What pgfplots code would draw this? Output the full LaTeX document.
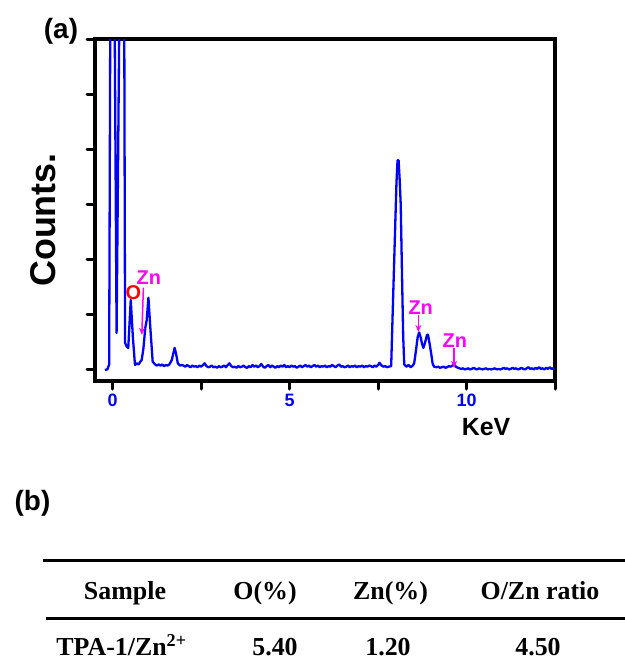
\documentclass[border=0pt]{standalone}
\usepackage{pgfplots}
\pgfplotsset{compat=1.18}
\usepackage{fontspec}
\setmainfont{Liberation Sans}
\newfontfamily\serifb{Liberation Serif}
\usetikzlibrary{arrows.meta}
\definecolor{pureblue}{RGB}{0,0,255}
\definecolor{puremag}{RGB}{255,0,255}
\definecolor{purered}{RGB}{255,0,0}
\pgfplotstableread{
x y
-0.22 0.00
-0.15 0.01
-0.10 0.10
-0.06 8
0.00 10
0.04 8
0.11 0.67
0.21 8
0.27 10
0.32 8
0.35 0.49
0.40 0.42
0.44 0.40
0.51 1.27
0.57 0.60
0.63 0.09
0.68 0.12
0.73 0.10
0.78 0.15
0.82 0.18
0.87 0.40
0.92 0.76
0.96 0.90
1.01 1.31
1.06 0.80
1.13 0.15
1.20 0.10
1.25 0.08
1.30 0.10
1.35 0.08
1.40 0.10
1.45 0.07
1.50 0.09
1.55 0.08
1.60 0.10
1.67 0.18
1.72 0.32
1.75 0.40
1.79 0.30
1.84 0.12
1.90 0.08
1.95 0.09
2.00 0.08
2.05 0.06
2.10 0.09
2.15 0.07
2.20 0.05
2.25 0.08
2.30 0.06
2.35 0.07
2.40 0.05
2.45 0.08
2.50 0.06
2.55 0.09
2.60 0.12
2.65 0.07
2.70 0.05
2.75 0.06
2.80 0.08
2.85 0.05
2.90 0.06
2.95 0.04
3.00 0.07
3.05 0.05
3.10 0.06
3.15 0.08
3.20 0.05
3.25 0.09
3.30 0.12
3.35 0.07
3.40 0.05
3.45 0.06
3.50 0.04
3.55 0.07
3.60 0.05
3.65 0.06
3.70 0.08
3.75 0.05
3.80 0.04
3.85 0.07
3.90 0.05
3.95 0.09
4.00 0.06
4.05 0.08
4.10 0.05
4.15 0.07
4.20 0.11
4.25 0.06
4.30 0.04
4.35 0.07
4.40 0.09
4.45 0.05
4.50 0.08
4.55 0.06
4.60 0.04
4.65 0.07
4.70 0.05
4.75 0.08
4.80 0.06
4.85 0.09
4.90 0.05
4.95 0.07
5.00 0.05
5.05 0.08
5.10 0.06
5.15 0.07
5.20 0.04
5.25 0.06
5.30 0.08
5.35 0.05
5.40 0.07
5.45 0.09
5.50 0.06
5.55 0.08
5.60 0.05
5.65 0.07
5.70 0.09
5.75 0.06
5.80 0.08
5.85 0.05
5.90 0.07
5.95 0.06
6.00 0.08
6.05 0.05
6.10 0.07
6.15 0.06
6.20 0.09
6.25 0.07
6.30 0.05
6.35 0.08
6.40 0.10
6.45 0.06
6.50 0.07
6.55 0.05
6.60 0.06
6.65 0.08
6.70 0.05
6.75 0.07
6.80 0.06
6.85 0.08
6.90 0.05
6.95 0.07
7.00 0.06
7.05 0.08
7.10 0.05
7.15 0.07
7.20 0.06
7.25 0.08
7.30 0.07
7.35 0.05
7.40 0.08
7.45 0.06
7.50 0.09
7.54 0.13
7.60 0.08
7.65 0.06
7.70 0.07
7.75 0.05
7.80 0.06
7.87 0.07
7.92 1.20
7.97 2.30
8.02 3.40
8.05 3.80
8.08 3.80
8.11 3.45
8.14 3.00
8.18 1.60
8.21 0.60
8.24 0.10
8.30 0.06
8.36 0.09
8.42 0.05
8.48 0.08
8.52 0.12
8.57 0.35
8.62 0.60
8.66 0.68
8.70 0.60
8.74 0.48
8.78 0.40
8.83 0.50
8.88 0.63
8.91 0.64
8.95 0.50
9.00 0.30
9.04 0.12
9.08 0.06
9.15 0.05
9.20 0.06
9.25 0.04
9.30 0.05
9.35 0.06
9.40 0.04
9.45 0.05
9.50 0.07
9.55 0.06
9.60 0.08
9.65 0.10
9.70 0.06
9.75 0.04
9.80 0.03
9.85 0.02
9.90 0.03
9.95 0.01
10.00 0.02
10.05 0.03
10.10 0.01
10.15 0.02
10.20 0.04
10.25 0.02
10.30 0.01
10.35 0.03
10.40 0.02
10.45 0.01
10.50 0.02
10.55 0.03
10.60 0.01
10.65 0.02
10.70 0.01
10.75 0.02
10.80 0.03
10.85 0.01
10.90 0.02
10.95 0.01
11.00 0.02
11.05 0.04
11.10 0.02
11.15 0.03
11.20 0.01
11.25 0.02
11.30 0.04
11.35 0.02
11.40 0.03
11.45 0.01
11.50 0.02
11.55 0.04
11.60 0.02
11.65 0.01
11.70 0.03
11.75 0.05
11.80 0.02
11.85 0.03
11.90 0.01
11.95 0.04
12.00 0.02
12.05 0.05
12.10 0.02
12.15 0.03
12.20 0.01
12.25 0.04
12.30 0.02
12.35 0.05
12.40 0.02
12.45 0.03
12.50 0.02
}\edsdata
\begin{document}
\begin{tikzpicture}
\useasboundingbox (0,0) rectangle (625bp,-670bp);
\begin{axis}[
  at={(95bp,-381bp)}, anchor=south west,
  scale only axis, width=460bp, height=342bp,
  xmin=-0.5, xmax=12.5, ymin=-0.2, ymax=6,
  xtick={0,5,10}, minor xtick={2.5,7.5,12.5},
  ytick={0,1,2,3,4,5,6}, yticklabel=\empty,
  xtick pos=bottom, ytick pos=left,
  tick align=outside,
  major tick length=8bp, minor tick length=8bp,
  every tick/.style={black, line width=3bp, line cap=round},
  axis line style={line width=4bp},
  /pgf/number format/assume math mode=true,
  xticklabel style={font=\bfseries\fontsize{18}{18}\selectfont, text=pureblue, anchor=center, yshift=-11bp},
  clip=true,
]
\addplot[pureblue, line width=2.3bp, line join=round] table[x=x,y=y] {\edsdata};
\node[text=purered, font=\bfseries\fontsize{20}{20}\selectfont] at (axis cs:0.585,1.409) {O};
\node[text=puremag, font=\bfseries\fontsize{20}{20}\selectfont] at (axis cs:1.021,1.682) {Zn};
\node[text=puremag, font=\bfseries\fontsize{20}{20}\selectfont] at (axis cs:8.704,1.136) {Zn};
\node[text=puremag, font=\bfseries\fontsize{20}{20}\selectfont] at (axis cs:9.667,0.531) {Zn};
\draw[puremag, line width=1.5bp, -{Stealth[length=7bp,width=6bp]}] (axis cs:0.868,1.491) -- (axis cs:0.823,0.636);
\draw[puremag, line width=1.5bp, -{Stealth[length=7bp,width=6bp]}] (axis cs:8.639,1.0) -- (axis cs:8.639,0.69);
\draw[puremag, line width=1.5bp, -{Stealth[length=7bp,width=6bp]}] (axis cs:9.647,0.395) -- (axis cs:9.647,0.036);
\end{axis}
\node[font=\bfseries\fontsize{36}{36}\selectfont, rotate=90] at (43.5bp,-220bp) {Counts.};
\node[font=\bfseries\fontsize{25}{25}\selectfont] at (486bp,-427bp) {KeV};
\node[font=\bfseries\fontsize{28}{28}\selectfont] at (61bp,-31.5bp) {(a)};
\node[font=\bfseries\fontsize{28}{28}\selectfont] at (32.5bp,-503.5bp) {(b)};
\draw[line width=3bp] (43bp,-560bp) -- (625bp,-560bp);
\draw[line width=3bp] (46bp,-618bp) -- (625bp,-618bp);
\begin{scope}[every node/.style={font=\serifb\bfseries\fontsize{26}{26}\selectfont, anchor=base, inner sep=0pt}]
\node at (125bp,-599bp) {Sample};
\node at (265bp,-599bp) {O(\%)};
\node at (390.6bp,-599bp) {Zn(\%)};
\node at (540bp,-599bp) {O/Zn ratio};
\node at (121.5bp,-655bp) {TPA-1/Zn\textsuperscript{2+}};
\node at (275bp,-655bp) {5.40};
\node at (388bp,-655bp) {1.20};
\node at (538bp,-655bp) {4.50};
\end{scope}
\end{tikzpicture}
\end{document}
